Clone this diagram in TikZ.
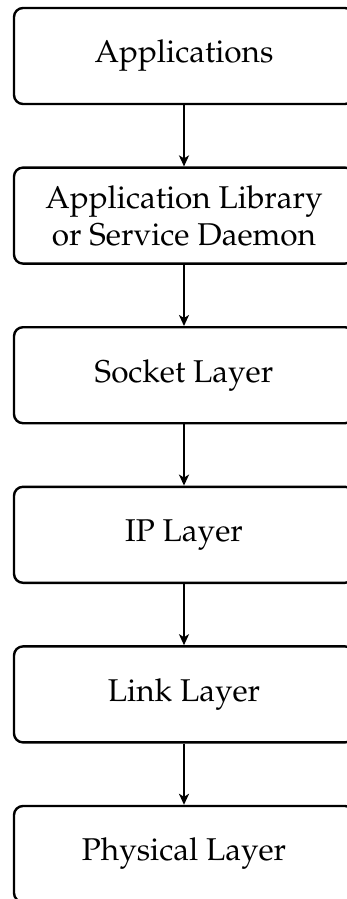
\documentclass[tikz,border=0pt]{standalone}
\usepackage[T1]{fontenc}
\usepackage{mathpazo}
\usetikzlibrary{arrows.meta}
\tikzset{
  layerbox/.style={draw, line width=2.4pt, rounded corners=9pt,
    minimum width=340pt, minimum height=96pt, align=center,
    font=\fontsize{31.5}{37}\selectfont, inner sep=0pt},
  flow/.style={-{Stealth[length=11pt,width=10pt,inset=3pt]}, line width=2pt}
}
\begin{document}
\begin{tikzpicture}[x=1pt,y=1pt]
  \useasboundingbox (0,0) rectangle (347,-899);
  \node[layerbox] (app)  at (184,-56)    {Applications};
  \node[layerbox] (lib)  at (184,-215.6) {Application Library\\or Service Daemon};
  \node[layerbox] (sock) at (184,-375.2) {Socket Layer};
  \node[layerbox] (ip)   at (184,-534.8) {IP Layer};
  \node[layerbox] (link) at (184,-694.4) {Link Layer};
  \node[layerbox] (phys) at (184,-854)   {Physical Layer};
  \draw[flow] (app)  -- (lib);
  \draw[flow] (lib)  -- (sock);
  \draw[flow] (sock) -- (ip);
  \draw[flow] (ip)   -- (link);
  \draw[flow] (link) -- (phys);
\end{tikzpicture}
\end{document}
